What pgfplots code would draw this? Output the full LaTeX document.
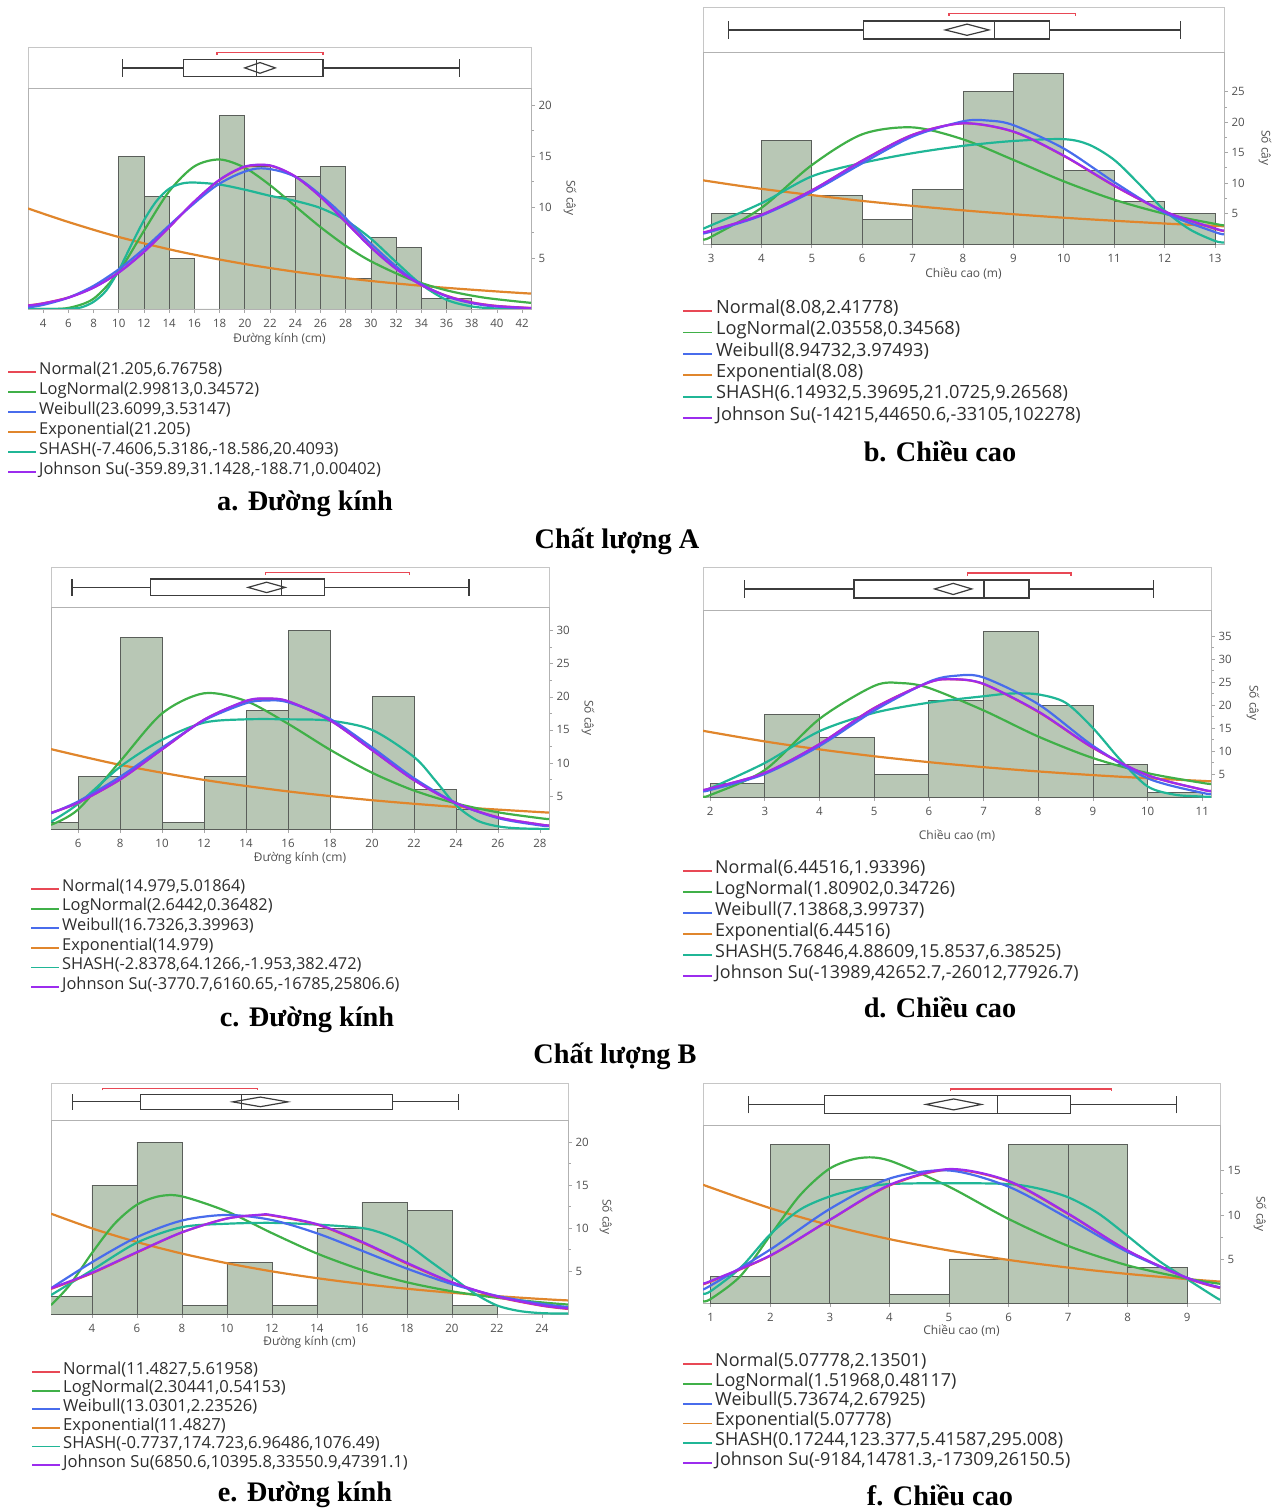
\documentclass[border=0pt]{standalone}
\usepackage{pgfplots}
\pgfplotsset{compat=1.18}
\usepackage{fontspec}
\setmainfont{Liberation Serif}
\newfontfamily\uifont{Open Sans}
\definecolor{cN}{RGB}{232,72,85}
\definecolor{cL}{RGB}{64,176,72}
\definecolor{cW}{RGB}{72,108,236}
\definecolor{cE}{RGB}{224,134,44}
\definecolor{cS}{RGB}{32,182,150}
\definecolor{cJ}{RGB}{156,44,238}
\definecolor{barfill}{RGB}{184,199,181}
\definecolor{baredge}{RGB}{90,94,90}
\definecolor{boxc}{RGB}{60,60,60}
\definecolor{tickgray}{RGB}{80,80,80}
\definecolor{legtext}{RGB}{45,45,45}
\pgfplotsset{
 histax/.style={anchor=north west, scale only axis, ymin=0,
  axis line style={draw=gray!60, line width=0.7pt},
  tick align=outside, xtick pos=bottom, ytick pos=right, yticklabel pos=right,
  major tick length=4pt, minor tick length=2.5pt,
  tick style={draw=gray!70, line width=0.7pt}, minor y tick num=1,
  /pgf/number format/assume math mode=true,
  ticklabel style={font=\uifont\fontsize{11.5}{11.5}\selectfont, text=tickgray},
  xticklabel style={anchor=center, inner sep=0pt, yshift=-10pt},
  yticklabel style={anchor=west},
  xlabel style={font=\uifont\fontsize{12}{12}\selectfont, text=tickgray, inner sep=0pt, at={(axis description cs:0.5,0)}, anchor=center}},
 stripax/.style={anchor=north west, scale only axis, ymin=0, ymax=1, ticks=none,
  axis line style={draw=gray!45, line width=0.7pt}},
 curve/.style={line width=2.2pt, smooth},
 bars/.style={ybar interval, fill=barfill, draw=baredge, line width=0.8pt},
 bx/.style={draw=boxc, line width=1.2pt},
 brk/.style={draw=cN, line width=1.3pt},
}
\newcommand{\legentry}[7]{%
 \draw[#5, line width=1.8pt] (#1pt,-#4pt) -- (#2pt,-#4pt);
 \node[anchor=mid west, inner sep=0pt, text=legtext, font=\uifont\fontsize{#7}{#7}\selectfont] at (#3pt,-#4pt) {#6};}
\newcommand{\capt}[3]{\node[anchor=center, font=\bfseries\fontsize{28.3}{30}\selectfont] at (#1pt,-#2pt) {#3};}
\newcommand{\ylab}[2]{\node[rotate=-90, inner sep=0pt, text=tickgray, font=\uifont\fontsize{12}{12}\selectfont] at (#1pt,-#2pt) {Số cây};}
\begin{document}
\begin{tikzpicture}
%% ================= PANEL A =================
\begin{axis}[stripax, at={(28pt,-47pt)}, width=503pt, height=41pt, xmin=2.8, xmax=42.7]
\addplot[bx] coordinates {(10.3,0.49) (15.15,0.49)};
\addplot[bx] coordinates {(26.2,0.49) (37.0,0.49)};
\addplot[bx] coordinates {(10.3,0.28) (10.3,0.70)};
\addplot[bx] coordinates {(37.0,0.28) (37.0,0.70)};
\addplot[bx] coordinates {(15.15,0.28) (26.2,0.28) (26.2,0.70) (15.15,0.70)} -- cycle;
\addplot[bx] coordinates {(20.9,0.28) (20.9,0.70)};
\addplot[bx] coordinates {(19.994,0.49) (21.205,0.62) (22.416,0.49) (21.205,0.36)} -- cycle;
\addplot[brk] coordinates {(17.8,0.80) (17.8,0.86) (26.2,0.86) (26.2,0.80)};
\end{axis}
\begin{axis}[histax, at={(28pt,-88pt)}, width=503pt, height=221pt, xmin=2.8, xmax=42.7, ymax=21.67,
 xtick={4,6,...,42}, ytick={5,10,15,20}, xlabel={Đường kính (cm)}, xlabel style={yshift=-30pt}]
\addplot[bars] coordinates {(10,15) (12,11) (14,5) (16,0) (18,19) (20,14) (22,11) (24,13) (26,14) (28,3) (30,7) (32,6) (34,1) (36,1) (38,0)};
\addplot[cE, curve] coordinates {(2.8,9.86) (6,8.53) (10,7.06) (15,5.58) (20,4.41) (25,3.48) (30,2.75) (35,2.17) (40,1.72) (42.7,1.51)};
\addplot[cL, curve] coordinates {(2.8,0) (4,0.005) (6,0.105) (8,1.01) (10,3.66) (12,7.67) (14,11.54) (16,13.99) (18,14.66) (20,13.85) (22,12.14) (24,10.08) (26,8.03) (28,6.20) (30,4.68) (33,2.97) (36,1.83) (39,1.11) (42.7,0.6)};
\addplot[cS, curve] coordinates {(2.8,0) (5,0) (6,0.02) (7,0.15) (8,0.7) (9,1.8) (10,3.8) (11,6.3) (12,8.7) (13,10.6) (14,11.8) (15,12.3) (16,12.4) (18,12.2) (20,11.7) (22,11.1) (24,10.6) (26,9.9) (28,8.7) (30,6.9) (32,4.6) (34,2.4) (36,0.9) (38,0.25) (40,0.05) (42.7,0)};
\addplot[cN, curve] coordinates {(2.8,0.35) (4,0.56) (6,1.13) (8,2.11) (10,3.59) (12,5.61) (14,8.03) (16,10.53) (18,12.65) (20,13.93) (22,14.05) (24,12.99) (26,11.01) (28,8.55) (30,6.08) (32,3.97) (34,2.37) (36,1.30) (38,0.65) (40,0.30) (42.7,0.10)};
\addplot[cW, curve] coordinates {(2.8,0.16) (4,0.40) (6,1.11) (8,2.27) (10,3.89) (12,5.91) (15,9.31) (18,12.3) (21,13.78) (24,12.97) (27,10.1) (30,6.40) (33,3.21) (36,1.24) (39,0.36) (42.7,0.05)};
\addplot[cJ, curve] coordinates {(2.8,0.33) (4,0.54) (6,1.11) (8,2.09) (10,3.57) (12,5.60) (14,8.03) (16,10.55) (18,12.68) (20,13.97) (22,14.08) (24,13.0) (26,11.0) (28,8.52) (30,6.04) (32,3.93) (34,2.35) (36,1.28) (38,0.63) (40,0.28) (42.7,0.09)};
\end{axis}
%% ================= PANEL B =================
\begin{axis}[stripax, at={(703pt,-7pt)}, width=521pt, height=45pt, xmin=2.84, xmax=13.18]
\addplot[bx] coordinates {(3.34,0.49) (6.02,0.49)};
\addplot[bx] coordinates {(9.71,0.49) (12.32,0.49)};
\addplot[bx] coordinates {(3.34,0.29) (3.34,0.69)};
\addplot[bx] coordinates {(12.32,0.29) (12.32,0.69)};
\addplot[bx] coordinates {(6.02,0.29) (9.71,0.29) (9.71,0.69) (6.02,0.69)} -- cycle;
\addplot[bx] coordinates {(8.62,0.29) (8.62,0.69)};
\addplot[bx] coordinates {(7.647,0.49) (8.08,0.62) (8.513,0.49) (8.08,0.37)} -- cycle;
\addplot[brk] coordinates {(7.72,0.81) (7.72,0.86) (10.23,0.86) (10.23,0.81)};
\end{axis}
\begin{axis}[histax, at={(703pt,-52pt)}, width=521pt, height=192pt, xmin=2.84, xmax=13.18, ymax=31.5,
 xtick={3,4,...,13}, ytick={5,10,...,25}, xlabel={Chiều cao (m)}, xlabel style={yshift=-30pt}]
\addplot[bars] coordinates {(3,5) (4,17) (5,8) (6,4) (7,9) (8,25) (9,28) (10,12) (11,7) (12,5) (13,0)};
\addplot[cE, curve] coordinates {(2.84,10.45) (4,9.05) (6,7.07) (8,5.52) (10,4.31) (12,3.36) (13.18,2.91)};
\addplot[cL, curve] coordinates {(2.84,0.80) (3,1.17) (4,5.93) (5,12.95) (6,18.0) (7,19.13) (8,17.17) (9,13.8) (10,10.28) (11,7.27) (12,4.96) (13,3.30) (13.18,3.05)};
\addplot[cS, curve] coordinates {(2.84,2.5) (4,6.7) (5,11.1) (6,13.3) (7,14.9) (8,16.1) (9,16.9) (10,17.2) (10.5,16.3) (11,13.8) (11.5,9.8) (12,5.5) (12.5,2.4) (13,0.5) (13.18,0.25)};
\addplot[cN, curve] coordinates {(2.84,1.89) (3,2.18) (4,4.77) (5,8.80) (6,13.68) (7,17.92) (8,19.79) (9,18.42) (10,14.45) (11,9.55) (12,5.32) (13,2.50) (13.18,2.14)};
\addplot[cW, curve] coordinates {(2.84,1.74) (3,2.04) (4,4.67) (5,8.55) (6,13.24) (7,17.63) (8,20.13) (8.5,20.25) (9,19.5) (10,15.66) (11,10.16) (12,5.13) (13,1.96) (13.18,1.6)};
\addplot[cJ, curve] coordinates {(2.84,1.95) (3,2.22) (4,4.8) (5,8.8) (6,13.66) (7,17.9) (8,19.8) (9,18.45) (10,14.5) (11,9.6) (12,5.35) (13,2.55) (13.18,2.2)};
\end{axis}
%% ================= PANEL C =================
\begin{axis}[stripax, at={(51pt,-567pt)}, width=498pt, height=40pt, xmin=4.71, xmax=28.43]
\addplot[bx] coordinates {(5.71,0.49) (9.44,0.49)};
\addplot[bx] coordinates {(17.75,0.49) (24.62,0.49)};
\addplot[bx] coordinates {(5.71,0.28) (5.71,0.70)};
\addplot[bx] coordinates {(24.62,0.28) (24.62,0.70)};
\addplot[bx] coordinates {(9.44,0.28) (17.75,0.28) (17.75,0.70) (9.44,0.70)} -- cycle;
\addplot[bx] coordinates {(15.7,0.28) (15.7,0.70)};
\addplot[bx] coordinates {(14.096,0.49) (14.979,0.62) (15.862,0.49) (14.979,0.36)} -- cycle;
\addplot[brk] coordinates {(14.92,0.80) (14.92,0.86) (21.79,0.86) (21.79,0.80)};
\end{axis}
\begin{axis}[histax, at={(51pt,-607pt)}, width=498pt, height=222pt, xmin=4.71, xmax=28.43, ymax=33.6,
 xtick={6,8,...,28}, ytick={5,10,...,30}, xlabel={Đường kính (cm)}, xlabel style={yshift=-29pt}]
\addplot[bars] coordinates {(4,1) (6,8) (8,29) (10,1) (12,8) (14,18) (16,30) (18,0) (20,20) (22,6) (24,3) (26,0)};
\addplot[cE, curve] coordinates {(4.71,12.09) (8,9.71) (12,7.43) (16,5.69) (20,4.36) (24,3.34) (28.43,2.48)};
\addplot[cL, curve] coordinates {(4.71,0.64) (6,2.95) (8,10.23) (10,17.49) (12,20.54) (14,19.37) (16,15.93) (18,12.0) (20,8.52) (22,5.82) (24,3.87) (26,2.53) (28,1.64) (28.43,1.5)};
\addplot[cS, curve] coordinates {(4.71,1.1) (6,3.8) (8,9.4) (10,13.5) (12,16.1) (14,16.6) (16,16.6) (18,16.4) (20,15.0) (22,10.9) (23,7.4) (24,3.6) (25,1.3) (26,0.4) (27,0.1) (28.43,0)};
\addplot[cN, curve] coordinates {(4.71,2.43) (6,3.98) (8,7.49) (10,12.05) (12,16.53) (14,19.34) (15,19.71) (16,19.31) (18,16.45) (20,11.95) (22,7.41) (24,3.92) (26,1.77) (28,0.68) (28.43,0.54)};
\addplot[cW, curve] coordinates {(4.71,2.37) (6,4.17) (8,7.90) (10,12.31) (12,16.43) (14,19.04) (15,19.45) (16,19.18) (18,16.66) (20,12.35) (22,7.69) (24,3.95) (26,1.65) (28,0.55) (28.43,0.45)};
\addplot[cJ, curve] coordinates {(4.71,2.45) (6,4.0) (8,7.5) (10,12.05) (12,16.55) (14,19.4) (15,19.75) (16,19.35) (18,16.45) (20,11.95) (22,7.4) (24,3.9) (26,1.76) (28,0.68) (28.43,0.54)};
\end{axis}
%% ================= PANEL D =================
\begin{axis}[stripax, at={(703pt,-567pt)}, width=508pt, height=43pt, xmin=1.87, xmax=11.16]
\addplot[bx] coordinates {(2.63,0.49) (4.63,0.49)};
\addplot[bx] coordinates {(7.83,0.49) (10.11,0.49)};
\addplot[bx] coordinates {(2.63,0.28) (2.63,0.70)};
\addplot[bx] coordinates {(10.11,0.28) (10.11,0.70)};
\addplot[bx] coordinates {(4.63,0.28) (7.83,0.28) (7.83,0.70) (4.63,0.70)} -- cycle;
\addplot[bx] coordinates {(7.01,0.28) (7.01,0.70)};
\addplot[bx] coordinates {(6.105,0.49) (6.445,0.62) (6.785,0.49) (6.445,0.36)} -- cycle;
\addplot[brk] coordinates {(6.71,0.80) (6.71,0.86) (8.60,0.86) (8.60,0.80)};
\end{axis}
\begin{axis}[histax, at={(703pt,-610pt)}, width=508pt, height=187pt, xmin=1.87, xmax=11.16, ymax=40.65,
 xtick={2,3,...,11}, ytick={5,10,...,35}, xlabel={Chiều cao (m)}, xlabel style={yshift=-39pt}]
\addplot[bars] coordinates {(2,3) (3,18) (4,13) (5,5) (6,21) (7,36) (8,20) (9,7) (10,1) (11,0)};
\addplot[cE, curve] coordinates {(1.87,14.39) (3,12.08) (4,10.35) (5,8.86) (6,7.58) (7,6.49) (8,5.56) (9,4.76) (10,4.08) (11.16,3.41)};
\addplot[cL, curve] coordinates {(1.87,0.23) (2,0.41) (3,5.86) (4,16.98) (5,24.15) (5.5,24.76) (6,23.71) (7,18.83) (8,13.15) (9,8.47) (10,5.19) (11,3.07) (11.16,2.85)};
\addplot[cS, curve] coordinates {(1.87,1.6) (2,1.9) (3,7.4) (4,14.3) (5,18.3) (6,20.5) (7,21.9) (7.5,22.5) (8,22.3) (8.5,20.5) (9,15.0) (9.5,8.1) (10,2.3) (10.5,0.5) (11,0.1) (11.16,0.05)};
\addplot[cN, curve] coordinates {(1.87,1.56) (2,1.82) (3,5.23) (4,11.5) (5,19.35) (6,24.91) (6.45,25.58) (7,24.55) (8,18.51) (9,10.69) (10,4.72) (11,1.60) (11.16,1.31)};
\addplot[cW, curve] coordinates {(1.87,1.3) (2,1.52) (3,5.01) (4,11.09) (5,18.77) (6,25.04) (6.5,26.37) (7,25.98) (8,20.19) (9,11.14) (10,4.07) (11,0.91) (11.16,0.75)};
\addplot[cJ, curve] coordinates {(1.87,1.6) (2,1.86) (3,5.25) (4,11.5) (5,19.3) (6,24.9) (6.45,25.6) (7,24.6) (8,18.6) (9,10.75) (10,4.75) (11,1.62) (11.16,1.33)};
\end{axis}
%% ================= PANEL E =================
\begin{axis}[stripax, at={(51pt,-1083pt)}, width=517pt, height=37pt, xmin=2.18, xmax=25.16]
\addplot[bx] coordinates {(3.13,0.49) (6.15,0.49)};
\addplot[bx] coordinates {(17.35,0.49) (20.28,0.49)};
\addplot[bx] coordinates {(3.13,0.28) (3.13,0.70)};
\addplot[bx] coordinates {(20.28,0.28) (20.28,0.70)};
\addplot[bx] coordinates {(6.15,0.28) (17.35,0.28) (17.35,0.70) (6.15,0.70)} -- cycle;
\addplot[bx] coordinates {(10.65,0.28) (10.65,0.70)};
\addplot[bx] coordinates {(10.259,0.49) (11.483,0.62) (12.707,0.49) (11.483,0.36)} -- cycle;
\addplot[brk] coordinates {(4.46,0.80) (4.46,0.86) (11.35,0.86) (11.35,0.80)};
\end{axis}
\begin{axis}[histax, at={(51pt,-1120pt)}, width=517pt, height=194pt, xmin=2.18, xmax=25.16, ymax=22.56,
 xtick={4,6,...,24}, ytick={5,10,15,20}, xlabel={Đường kính (cm)}, xlabel style={yshift=-28pt}]
\addplot[bars] coordinates {(2,2) (4,15) (6,20) (8,1) (10,6) (12,1) (14,10) (16,13) (18,12) (20,1) (22,0)};
\addplot[cE, curve] coordinates {(2.18,11.67) (4,9.96) (6,8.37) (8,7.03) (10,5.91) (12,4.96) (14,4.17) (16,3.50) (18,2.94) (20,2.47) (22,2.08) (24,1.74) (25.16,1.58)};
\addplot[cL, curve] coordinates {(2.18,1.04) (3,3.33) (4,7.09) (5,10.48) (6,12.71) (7,13.70) (8,13.68) (10,11.93) (12,9.41) (14,7.04) (16,5.13) (18,3.69) (20,2.64) (22,1.89) (24,1.35) (25.16,1.1)};
\addplot[cS, curve] coordinates {(2.18,2.2) (4,5.1) (6,8.3) (8,10.1) (10,10.5) (12,10.6) (14,10.4) (16,10.0) (17,9.3) (18,8.1) (19,6.2) (20,4.3) (21,2.4) (22,1.0) (23,0.35) (24,0.1) (25.16,0.05)};
\addplot[cN, curve] coordinates {(2.18,2.92) (4,4.74) (6,7.15) (8,9.49) (10,11.11) (11.5,11.5) (12,11.45) (14,10.40) (16,8.32) (18,5.87) (20,3.65) (22,2.0) (24,0.96) (25.16,0.59)};
\addplot[cW, curve] coordinates {(2.18,3.0) (4,6.02) (6,8.94) (8,10.87) (10,11.52) (12,10.93) (14,9.39) (16,7.36) (18,5.28) (20,3.48) (22,2.11) (24,1.18) (25.16,0.81)};
\addplot[cJ, curve] coordinates {(2.18,3.0) (4,4.8) (6,7.2) (8,9.5) (10,11.1) (11.5,11.55) (12,11.5) (14,10.45) (16,8.4) (18,5.95) (20,3.7) (22,2.05) (24,1.0) (25.16,0.65)};
\end{axis}
%% ================= PANEL F =================
\begin{axis}[stripax, at={(703pt,-1083pt)}, width=517pt, height=42pt, xmin=0.87, xmax=9.55]
\addplot[bx] coordinates {(1.63,0.49) (2.91,0.49)};
\addplot[bx] coordinates {(7.04,0.49) (8.82,0.49)};
\addplot[bx] coordinates {(1.63,0.28) (1.63,0.70)};
\addplot[bx] coordinates {(8.82,0.28) (8.82,0.70)};
\addplot[bx] coordinates {(2.91,0.28) (7.04,0.28) (7.04,0.70) (2.91,0.70)} -- cycle;
\addplot[bx] coordinates {(5.82,0.28) (5.82,0.70)};
\addplot[bx] coordinates {(4.613,0.49) (5.078,0.62) (5.543,0.49) (5.078,0.36)} -- cycle;
\addplot[brk] coordinates {(5.02,0.80) (5.02,0.86) (7.73,0.86) (7.73,0.80)};
\end{axis}
\begin{axis}[histax, at={(703pt,-1125pt)}, width=517pt, height=178pt, xmin=0.87, xmax=9.55, ymax=20.2,
 xtick={1,2,...,9}, ytick={5,10,15}, xlabel={Chiều cao (m)}, xlabel style={yshift=-28pt}]
\addplot[bars] coordinates {(1,3) (2,18) (3,14) (4,1) (5,5) (6,18) (7,18) (8,4) (9,0)};
\addplot[cE, curve] coordinates {(0.87,13.44) (1,13.1) (2,10.76) (3,8.83) (4,7.25) (5,5.96) (6,4.89) (7,4.02) (8,3.30) (9,2.71) (9.55,2.43)};
\addplot[cL, curve] coordinates {(0.87,0.2) (1,0.46) (1.5,3.07) (2,7.68) (2.5,12.24) (3,15.27) (3.5,16.45) (4,16.16) (5,13.2) (6,9.54) (7,6.48) (8,4.27) (9,2.77) (9.55,2.18)};
\addplot[cS, curve] coordinates {(0.87,1.05) (1,1.35) (1.5,4.0) (2,7.8) (2.5,10.6) (3,12.1) (3.5,13.0) (4,13.5) (5,13.6) (6,13.5) (6.5,13.0) (7,12.0) (7.5,10.2) (8,7.6) (8.5,4.9) (9,2.7) (9.5,0.55) (9.55,0.45)};
\addplot[cN, curve] coordinates {(0.87,2.17) (1,2.44) (2,5.36) (3,9.43) (4,13.33) (5,15.13) (6,13.79) (7,10.10) (8,5.93) (9,2.80) (9.55,1.69)};
\addplot[cW, curve] coordinates {(0.87,1.58) (1,1.99) (2,6.07) (3,10.68) (4,14.12) (5,15.04) (6,13.2) (7,9.61) (8,5.78) (9,2.85) (9.55,1.77)};
\addplot[cJ, curve] coordinates {(0.87,2.25) (1,2.5) (2,5.4) (3,9.45) (4,13.4) (5,15.2) (6,13.85) (7,10.15) (8,5.95) (9,2.85) (9.55,1.75)};
\end{axis}
%% ================= Y LABELS =================
\ylab{570}{198}
\ylab{1265}{148}
\ylab{588}{718}
\ylab{1253}{703}
\ylab{606}{1217}
\ylab{1260}{1214}
%% ================= LEGENDS =================
\legentry{8}{36}{39}{372}{cN}{Normal(21.205,6.76758)}{16.4}
\legentry{8}{36}{39}{392}{cL}{LogNormal(2.99813,0.34572)}{16.4}
\legentry{8}{36}{39}{412}{cW}{Weibull(23.6099,3.53147)}{16.4}
\legentry{8}{36}{39}{432}{cE}{Exponential(21.205)}{16.4}
\legentry{8}{36}{39}{452}{cS}{SHASH(-7.4606,5.3186,-18.586,20.4093)}{16.4}
\legentry{8}{36}{39}{472}{cJ}{Johnson Su(-359.89,31.1428,-188.71,0.00402)}{16.4}
\legentry{683}{712}{716}{311}{cN}{Normal(8.08,2.41778)}{18.2}
\legentry{683}{712}{716}{332.4}{cL}{LogNormal(2.03558,0.34568)}{18.2}
\legentry{683}{712}{716}{353.8}{cW}{Weibull(8.94732,3.97493)}{18.2}
\legentry{683}{712}{716}{375.2}{cE}{Exponential(8.08)}{18.2}
\legentry{683}{712}{716}{396.6}{cS}{SHASH(6.14932,5.39695,21.0725,9.26568)}{18.2}
\legentry{683}{712}{716}{418}{cJ}{Johnson Su(-14215,44650.6,-33105,102278)}{18.2}
\legentry{31}{59}{62}{889}{cN}{Normal(14.979,5.01864)}{16.4}
\legentry{31}{59}{62}{908.6}{cL}{LogNormal(2.6442,0.36482)}{16.4}
\legentry{31}{59}{62}{928.2}{cW}{Weibull(16.7326,3.39963)}{16.4}
\legentry{31}{59}{62}{947.8}{cE}{Exponential(14.979)}{16.4}
\legentry{31}{59}{62}{967.4}{cS}{SHASH(-2.8378,64.1266,-1.953,382.472)}{16.4}
\legentry{31}{59}{62}{987}{cJ}{Johnson Su(-3770.7,6160.65,-16785,25806.6)}{16.4}
\legentry{683}{712}{715}{871}{cN}{Normal(6.44516,1.93396)}{17.9}
\legentry{683}{712}{715}{892}{cL}{LogNormal(1.80902,0.34726)}{17.9}
\legentry{683}{712}{715}{913}{cW}{Weibull(7.13868,3.99737)}{17.9}
\legentry{683}{712}{715}{934}{cE}{Exponential(6.44516)}{17.9}
\legentry{683}{712}{715}{955}{cS}{SHASH(5.76846,4.88609,15.8537,6.38525)}{17.9}
\legentry{683}{712}{715}{976}{cJ}{Johnson Su(-13989,42652.7,-26012,77926.7)}{17.9}
\legentry{32}{60}{63}{1372}{cN}{Normal(11.4827,5.61958)}{16.6}
\legentry{32}{60}{63}{1390.6}{cL}{LogNormal(2.30441,0.54153)}{16.6}
\legentry{32}{60}{63}{1409.2}{cW}{Weibull(13.0301,2.23526)}{16.6}
\legentry{32}{60}{63}{1427.8}{cE}{Exponential(11.4827)}{16.6}
\legentry{32}{60}{63}{1446.4}{cS}{SHASH(-0.7737,174.723,6.96486,1076.49)}{16.6}
\legentry{32}{60}{63}{1465}{cJ}{Johnson Su(6850.6,10395.8,33550.9,47391.1)}{16.6}
\legentry{683}{712}{715}{1364}{cN}{Normal(5.07778,2.13501)}{18}
\legentry{683}{712}{715}{1383.8}{cL}{LogNormal(1.51968,0.48117)}{18}
\legentry{683}{712}{715}{1403.6}{cW}{Weibull(5.73674,2.67925)}{18}
\legentry{683}{712}{715}{1423.4}{cE}{Exponential(5.07778)}{18}
\legentry{683}{712}{715}{1443.2}{cS}{SHASH(0.17244,123.377,5.41587,295.008)}{18}
\legentry{683}{712}{715}{1463}{cJ}{Johnson Su(-9184,14781.3,-17309,26150.5)}{18}
%% ================= CAPTIONS =================
\capt{305}{504}{a. Đường kính}
\capt{940}{451}{b. Chiều cao}
\capt{617}{541}{Chất lượng A}
\capt{307}{1020}{c. Đường kính}
\capt{940}{1007}{d. Chiều cao}
\capt{615}{1056}{Chất lượng B}
\capt{305}{1495}{e. Đường kính}
\capt{940}{1495}{f. Chiều cao}
\pgfresetboundingbox
\path[use as bounding box] (0,0) rectangle (1274pt,-1511pt);
\end{tikzpicture}
\end{document}
